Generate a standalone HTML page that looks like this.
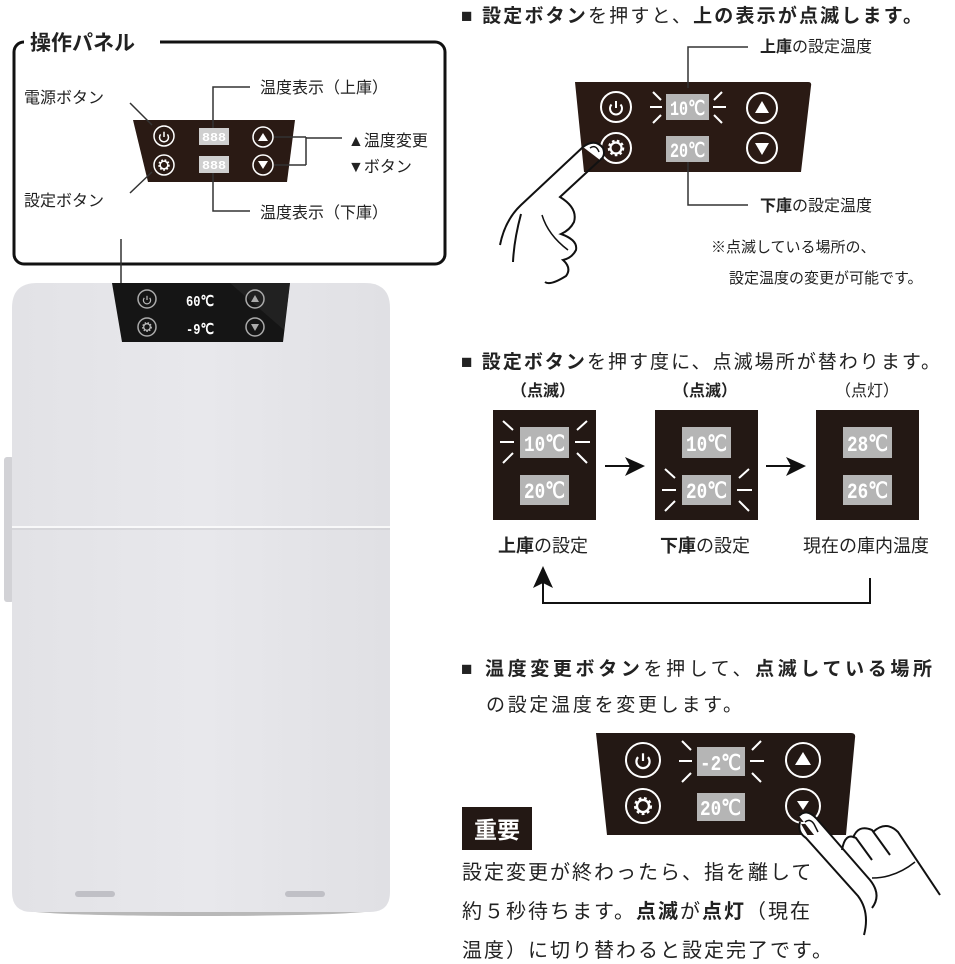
<!DOCTYPE html>
<html><head><meta charset="utf-8">
<style>
html,body{margin:0;padding:0;background:#fff;}
svg{display:block;}
text{font-family:"Liberation Sans","Noto Sans CJK JP",sans-serif;fill:#222;}
.b{font-weight:bold;}
.dg{font-family:"Liberation Mono",monospace;fill:#fff;font-weight:bold;}
</style></head>
<body>
<svg width="955" height="964" viewBox="0 0 955 964" xmlns="http://www.w3.org/2000/svg">
<defs>
<linearGradient id="fr" x1="0" y1="0" x2="1" y2="0">
<stop offset="0" stop-color="#e2e2e6"/><stop offset="0.5" stop-color="#e8e8ec"/><stop offset="1" stop-color="#e0e0e4"/>
</linearGradient>
<g id="pw"><path d="M-4.5,-3.5 A6,6 0 1 0 4.5,-3.5" fill="none" stroke="#fff" stroke-width="2"/><line x1="0" y1="-7" x2="0" y2="0" stroke="#fff" stroke-width="2"/></g>
<g id="gr"><circle r="5.5" fill="none" stroke="#fff" stroke-width="2.2"/><circle r="7" fill="none" stroke="#fff" stroke-width="2.5" stroke-dasharray="2.5 2.3"/></g>
</defs>

<!-- ========== LEFT: operation panel box ========== -->
<rect x="14" y="42" width="431" height="222" rx="10" fill="none" stroke="#111" stroke-width="3"/>
<rect x="24" y="28" width="136" height="28" fill="#fff"/>
<text x="30" y="50" font-size="21" class="b" fill="#111">操作パネル</text>

<path d="M133,120 L295,120 L287,182 L148,182 Z" fill="#2a1a14"/>
<circle cx="164" cy="136" r="10" fill="none" stroke="#fff" stroke-width="1.5"/>
<g transform="translate(164,137) scale(0.75)"><use href="#pw"/></g>
<circle cx="164" cy="165" r="10" fill="none" stroke="#fff" stroke-width="1.5"/>
<g transform="translate(164,165) scale(0.7)"><use href="#gr"/></g>
<rect x="199" y="128" width="30" height="17" fill="#cfcfcf"/>
<rect x="199" y="156" width="30" height="17" fill="#cfcfcf"/>
<text x="202" y="141" font-size="12" class="dg" textLength="24" lengthAdjust="spacingAndGlyphs">888</text>
<text x="202" y="169" font-size="12" class="dg" textLength="24" lengthAdjust="spacingAndGlyphs">888</text>
<circle cx="263" cy="137" r="10" fill="none" stroke="#fff" stroke-width="1.5"/>
<path d="M258,141 L268,141 L263,133 Z" fill="#fff"/>
<circle cx="263" cy="165" r="10" fill="none" stroke="#fff" stroke-width="1.5"/>
<path d="M258,161 L268,161 L263,169 Z" fill="#fff"/>

<g stroke="#333" stroke-width="1.5" fill="none">
<line x1="130" y1="103" x2="152" y2="125"/>
<line x1="130" y1="193" x2="152" y2="172"/>
<polyline points="213,128 213,87 250,87"/>
<polyline points="213,173 213,211 250,211"/>
<line x1="274" y1="137" x2="306" y2="137"/>
<line x1="274" y1="165" x2="306" y2="165"/>
<line x1="306" y1="137" x2="306" y2="165"/>
<line x1="306" y1="138" x2="342" y2="138"/>
<line x1="121" y1="239" x2="121" y2="290"/>
</g>
<text x="24" y="103" font-size="16">電源ボタン</text>
<text x="24" y="206" font-size="16">設定ボタン</text>
<text x="260" y="93" font-size="16">温度表示（上庫）</text>
<text x="260" y="218" font-size="16">温度表示（下庫）</text>
<text x="348" y="146" font-size="16">▲温度変更</text>
<text x="348" y="172" font-size="16">▼ボタン</text>

<!-- ========== LEFT: fridge ========== -->
<ellipse cx="200" cy="910" rx="175" ry="6" fill="#888" opacity="0.6"/>
<rect x="4" y="457" width="10" height="145" rx="3" fill="#d2d2d6"/>
<path d="M37,283 L365,283 Q390,283 390,308 L390,892 Q390,912 370,912 L32,912 Q12,912 12,892 L12,308 Q12,283 37,283 Z" fill="url(#fr)"/>
<line x1="12" y1="527" x2="390" y2="527" stroke="#fff" stroke-width="1.5"/>
<line x1="12" y1="529" x2="390" y2="529" stroke="#c9c9cd" stroke-width="1"/>
<rect x="75" y="891" width="40" height="6" rx="3" fill="#c0c0c6"/>
<rect x="285" y="891" width="40" height="6" rx="3" fill="#c0c0c6"/>
<path d="M112,283 L290,283 L283,342 L122,342 Z" fill="#151515"/>
<path d="M230,283 L290,283 L284,330 Z" fill="#2a2a2a" opacity="0.6"/>
<g stroke="#aaa" stroke-width="1.5" fill="none">
<circle cx="147" cy="299" r="9"/><circle cx="147" cy="327" r="9"/>
<circle cx="255" cy="299" r="9"/><circle cx="255" cy="327" r="9"/>
</g>
<g transform="translate(147,300) scale(0.6)" opacity="0.7"><use href="#pw"/></g>
<g transform="translate(147,327) scale(0.6)" opacity="0.7"><use href="#gr"/></g>
<path d="M251,302 L259,302 L255,295 Z" fill="#aaa"/>
<path d="M251,324 L259,324 L255,331 Z" fill="#aaa"/>
<text x="186" y="306" font-size="15" class="dg" textLength="28" lengthAdjust="spacingAndGlyphs">60℃</text>
<text x="186" y="334" font-size="15" class="dg" textLength="28" lengthAdjust="spacingAndGlyphs">-9℃</text>

<!-- ========== RIGHT TOP ========== -->
<text x="461" y="22" font-size="19" textLength="461" lengthAdjust="spacing"><tspan class="b">■ 設定ボタン</tspan>を押すと、<tspan class="b">上の表示が点滅します。</tspan></text>
<path d="M575,82 L808,82 Q812,82 811,86 L801,172 L584,172 Z" fill="#2a1a14"/>
<g stroke="#fff" stroke-width="2" fill="none">
<circle cx="616" cy="107" r="15"/><circle cx="616" cy="148" r="15"/>
<circle cx="762" cy="108" r="15"/><circle cx="762" cy="148" r="15"/>
</g>
<g transform="translate(616,108)"><use href="#pw"/></g>
<g transform="translate(616,148)"><use href="#gr"/></g>
<path d="M755,113 L769,113 L762,101 Z" fill="#fff"/>
<path d="M755,143 L769,143 L762,155 Z" fill="#fff"/>
<rect x="666" y="94" width="43" height="26" fill="#b5b5b5"/>
<rect x="666" y="136" width="43" height="26" fill="#b5b5b5"/>
<text x="670" y="115" font-size="20" class="dg" textLength="35" lengthAdjust="spacingAndGlyphs">10℃</text>
<text x="670" y="157" font-size="20" class="dg" textLength="35" lengthAdjust="spacingAndGlyphs">20℃</text>
<g stroke="#fff" stroke-width="2">
<line x1="650" y1="107" x2="662" y2="107"/><line x1="713" y1="107" x2="726" y2="107"/>
<line x1="653" y1="92" x2="661" y2="100"/><line x1="653" y1="123" x2="661" y2="115"/>
<line x1="722" y1="92" x2="714" y2="100"/><line x1="722" y1="123" x2="714" y2="115"/>
</g>
<g stroke="#333" stroke-width="1.5" fill="none">
<polyline points="688,88 688,47 748,47"/>
<polyline points="688,162 688,205 748,205"/>
</g>
<text x="760" y="52" font-size="16"><tspan class="b">上庫</tspan>の設定温度</text>
<text x="760" y="211" font-size="16"><tspan class="b">下庫</tspan>の設定温度</text>
<text x="711" y="252" font-size="15">※点滅している場所の、</text>
<text x="729" y="283" font-size="15">設定温度の変更が可能です。</text>
<!-- hand 1 -->
<path d="M583,147 L521,205 Q505,220 500,245" fill="none" stroke="#111" stroke-width="2"/>
<path d="M600,160 L560,197 Q578,208 574,222 Q570,230 561,234 Q578,240 576,250 Q572,258 563,260 Q572,268 566,276 Q550,286 545,282" fill="none" stroke="#111" stroke-width="2"/>
<path d="M583,147 Q595,138 603,148 Q606,156 600,160" fill="#fff" stroke="#111" stroke-width="2"/>
<path d="M521,214 Q514,240 513,262" fill="none" stroke="#111" stroke-width="2"/>
<path d="M542,215 Q548,235 568,250" fill="none" stroke="#111" stroke-width="1.5"/>
<path d="M590,148 Q596,144 599,152" fill="none" stroke="#111" stroke-width="1.5"/>

<!-- ========== RIGHT MIDDLE ========== -->
<text x="461" y="368" font-size="19" textLength="479" lengthAdjust="spacing"><tspan class="b">■ 設定ボタン</tspan>を押す度に、点滅場所が替わります。</text>
<text x="511" y="396" font-size="16" class="b">（点滅）</text>
<text x="673" y="396" font-size="16" class="b">（点滅）</text>
<text x="835" y="396" font-size="16">（点灯）</text>
<rect x="493" y="410" width="103" height="110" fill="#231814"/>
<rect x="655" y="410" width="103" height="110" fill="#231814"/>
<rect x="816" y="410" width="103" height="110" fill="#231814"/>
<g fill="#b5b5b5">
<rect x="520" y="427" width="49" height="31"/><rect x="520" y="475" width="49" height="30"/>
<rect x="682" y="427" width="49" height="31"/><rect x="682" y="475" width="49" height="30"/>
<rect x="843" y="427" width="49" height="31"/><rect x="843" y="475" width="49" height="30"/>
</g>
<g font-size="22">
<text x="524" y="451" class="dg" textLength="41" lengthAdjust="spacingAndGlyphs">10℃</text><text x="524" y="498" class="dg" textLength="41" lengthAdjust="spacingAndGlyphs">20℃</text>
<text x="686" y="451" class="dg" textLength="41" lengthAdjust="spacingAndGlyphs">10℃</text><text x="686" y="498" class="dg" textLength="41" lengthAdjust="spacingAndGlyphs">20℃</text>
<text x="847" y="451" class="dg" textLength="41" lengthAdjust="spacingAndGlyphs">28℃</text><text x="847" y="498" class="dg" textLength="41" lengthAdjust="spacingAndGlyphs">26℃</text>
</g>
<g stroke="#fff" stroke-width="2">
<line x1="500" y1="442" x2="514" y2="442"/><line x1="575" y1="442" x2="590" y2="442"/>
<line x1="503" y1="421" x2="513" y2="430"/><line x1="503" y1="463" x2="513" y2="453"/>
<line x1="587" y1="421" x2="577" y2="430"/><line x1="587" y1="463" x2="577" y2="453"/>
<line x1="662" y1="490" x2="676" y2="490"/><line x1="737" y1="490" x2="752" y2="490"/>
<line x1="665" y1="469" x2="675" y2="478"/><line x1="665" y1="511" x2="675" y2="501"/>
<line x1="749" y1="469" x2="739" y2="478"/><line x1="749" y1="511" x2="739" y2="501"/>
</g>
<g fill="#111">
<line x1="605" y1="466" x2="630" y2="466" stroke="#111" stroke-width="2"/>
<path d="M625,457 L645,466 L625,476 L630,466 Z"/>
<line x1="766" y1="466" x2="791" y2="466" stroke="#111" stroke-width="2"/>
<path d="M786,457 L806,466 L786,476 L791,466 Z"/>
</g>
<text x="543" y="552" font-size="18" text-anchor="middle"><tspan class="b">上庫</tspan>の設定</text>
<text x="705" y="552" font-size="18" text-anchor="middle"><tspan class="b">下庫</tspan>の設定</text>
<text x="866" y="552" font-size="18" text-anchor="middle">現在の庫内温度</text>
<polyline points="870,578 870,603 543,603 543,580" fill="none" stroke="#111" stroke-width="2"/>
<path d="M533,588 L543,566 L553,588 L543,583 Z" fill="#111"/>

<!-- ========== RIGHT BOTTOM ========== -->
<text x="461" y="675" font-size="19" textLength="471" lengthAdjust="spacing"><tspan class="b">■ 温度変更ボタン</tspan>を押して、<tspan class="b">点滅している場所</tspan></text>
<text x="486" y="711" font-size="19" textLength="256" lengthAdjust="spacing">の設定温度を変更します。</text>
<path d="M596,733 L851,733 Q856,733 855,738 L846,835 L607,835 Z" fill="#231814"/>
<g stroke="#fff" stroke-width="2" fill="none">
<circle cx="643" cy="760" r="17"/><circle cx="643" cy="806" r="17"/>
<circle cx="803" cy="760" r="17"/><circle cx="803" cy="806" r="17"/>
</g>
<g transform="translate(643,761) scale(1.1)"><use href="#pw"/></g>
<g transform="translate(643,806) scale(1.1)"><use href="#gr"/></g>
<path d="M795,765 L811,765 L803,752 Z" fill="#fff"/>
<path d="M797,801 L809,801 L803,810 Z" fill="#fff"/>
<rect x="697" y="747" width="48" height="29" fill="#b5b5b5"/>
<rect x="697" y="793" width="48" height="28" fill="#b5b5b5"/>
<text x="700" y="770" font-size="21" class="dg" textLength="41" lengthAdjust="spacingAndGlyphs">-2℃</text>
<text x="700" y="815" font-size="21" class="dg" textLength="41" lengthAdjust="spacingAndGlyphs">20℃</text>
<g stroke="#fff" stroke-width="2">
<line x1="679" y1="761" x2="692" y2="761"/><line x1="750" y1="761" x2="764" y2="761"/>
<line x1="682" y1="741" x2="691" y2="750"/><line x1="682" y1="782" x2="691" y2="773"/>
<line x1="761" y1="741" x2="752" y2="750"/><line x1="761" y1="782" x2="752" y2="773"/>
</g>
<!-- hand 2 -->
<path d="M799,816 Q806,808 816,818 L870,880 Q882,895 872,908 M800,822 Q797,832 806,838 L858,896 Q870,912 864,935" fill="#fff" stroke="#111" stroke-width="2"/>
<path d="M842,850 Q845,832 856,838 L872,860 M853,838 Q858,824 872,830 L890,855 M873,832 Q886,820 898,832 L940,895" fill="none" stroke="#111" stroke-width="2"/>
<path d="M872,878 Q895,878 915,862" fill="none" stroke="#111" stroke-width="1.5"/>
<path d="M805,822 Q810,818 814,824 L818,832" fill="none" stroke="#111" stroke-width="1.5"/>

<rect x="462" y="807" width="70" height="43" fill="#231814"/>
<text x="497" y="838" font-size="23" class="b" text-anchor="middle" style="fill:#fff">重要</text>
<text x="462" y="879" font-size="20" letter-spacing="2">設定変更が終わったら、指を離して</text>
<text x="462" y="918" font-size="20" letter-spacing="2">約５秒待ちます。<tspan class="b">点滅</tspan>が<tspan class="b">点灯</tspan>（現在</text>
<text x="462" y="957" font-size="20" letter-spacing="2">温度）に切り替わると設定完了です。</text>
</svg>
</body></html>
